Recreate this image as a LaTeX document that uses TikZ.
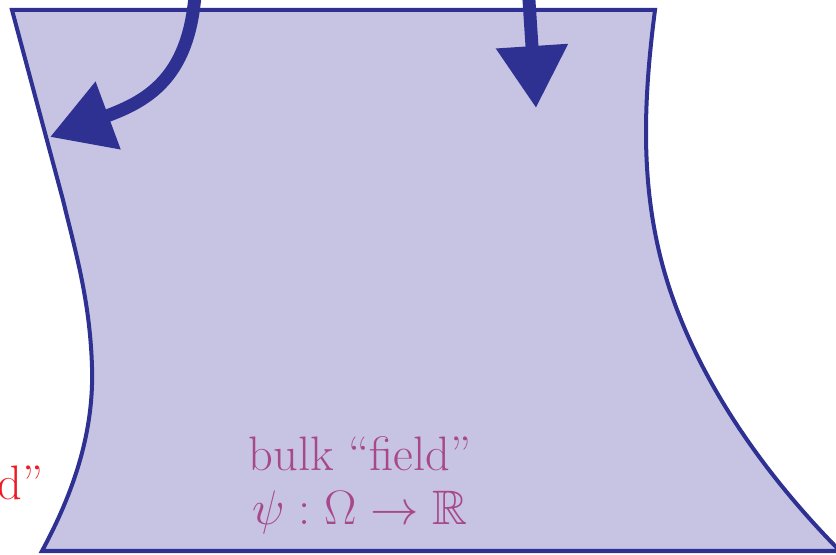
\documentclass[tikz,border=0pt]{standalone}
\usepackage{fix-cm}
\usepackage{amssymb}
\usetikzlibrary{arrows.meta}
\definecolor{regionfill}{RGB}{198,196,226}
\definecolor{regionline}{RGB}{46,49,146}
\definecolor{bulktext}{RGB}{168,72,138}
\definecolor{bdrytext}{RGB}{237,28,36}

\begin{document}
\begin{tikzpicture}[x=0.479pt,y=-0.479pt,
    flow/.style={regionline,line width=6.2pt,-{Triangle[length=29.7pt,width=33pt]}},
    lbl/.style={font=\fontsize{23.2}{26}\selectfont,align=center}]
  \useasboundingbox (0,0) rectangle (836,555);
  % the region
  \draw[regionline,fill=regionfill,line width=1.92pt,line join=miter]
    (12,10) -- (655,10)
    .. controls (642,110) and (640,200) .. (670,290)
    .. controls (700,380) and (760,470) .. (840,551)
    -- (42,551)
    .. controls (75,490) and (94,430) .. (92,367)
    .. controls (90,300) and (75,250) .. (63,200)
    -- cycle;
  \node[lbl,text=bulktext] (bulk) at (360,485) {bulk ``field''\\ $\psi:\Omega\to\mathbb{R}$};
  \node[lbl,text=bdrytext,anchor=base west,inner sep=0pt] (bdry) at (-3,500) {d''};
  % arrows coming in from above
  \coordinate (s1) at (196,-30);
  \coordinate (t1) at (50,137);
  \coordinate (s2) at (527,-30);
  \coordinate (t2) at (536,108);
  \draw[flow] (s1) .. controls (196,75) and (150,100) .. (t1);
  \draw[flow] (s2) -- (t2);
\end{tikzpicture}
\end{document}
